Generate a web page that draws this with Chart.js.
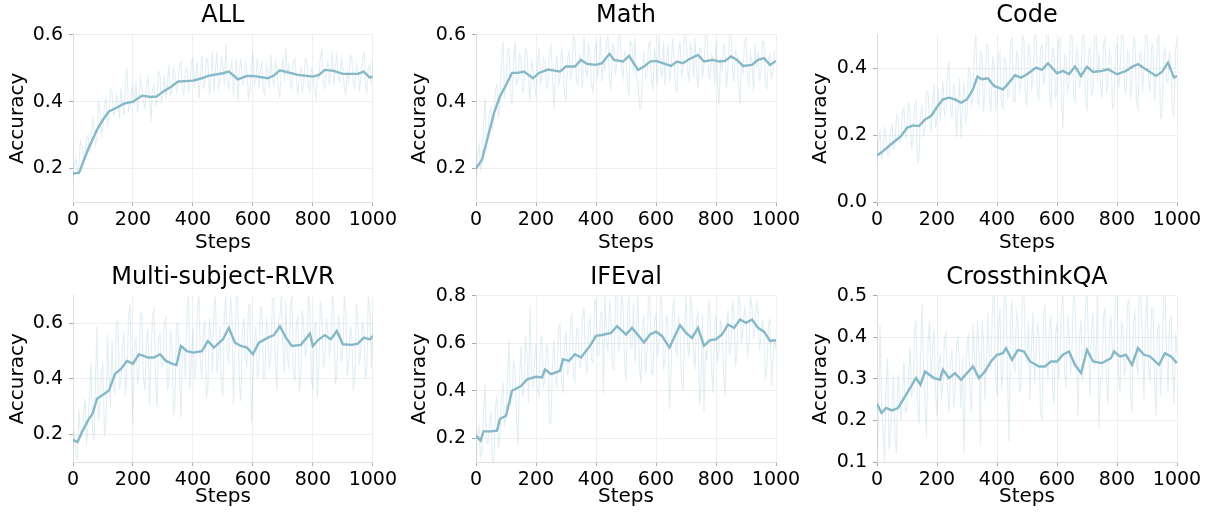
<!DOCTYPE html>
<html>
<head>
<meta charset="utf-8">
<script src="https://cdn.jsdelivr.net/npm/chart.js@4.4.1/dist/chart.umd.min.js"></script>
<style>
  body { margin: 0; background: #fff; width: 1214px; height: 517px; position: relative; overflow: hidden; }
  canvas { position: absolute; }
</style>
</head>
<body>
<canvas id="p0"></canvas>
<canvas id="p1"></canvas>
<canvas id="p2"></canvas>
<canvas id="p3"></canvas>
<canvas id="p4"></canvas>
<canvas id="p5"></canvas>
<script>
// ---- data ----
const titles = ['ALL', 'Math', 'Code', 'Multi-subject-RLVR', 'IFEval', 'CrossthinkQA'];
const xTicks = [0, 200, 400, 600, 800, 1000];
const yTicks = [
  [0.2, 0.4, 0.6],
  [0.2, 0.4, 0.6],
  [0.0, 0.2, 0.4],
  [0.2, 0.4, 0.6],
  [0.2, 0.4, 0.6, 0.8],
  [0.1, 0.2, 0.3, 0.4, 0.5]
];
const yRanges = [[0.1, 0.6], [0.1, 0.6], [0.0, 0.5], [0.1, 0.7], [0.1, 0.8], [0.1, 0.5]];

// raw (unsmoothed) accuracy, one value every 5 steps, one row per 100 steps
const rawSteps = [];
for (let s = 0; s <= 1000; s += 5) rawSteps.push(s);

const allRaw = [
  0.17, 0.21, 0.23, 0.19, 0.21, 0.28, 0.27, 0.22, 0.24, 0.29, 0.30, 0.25, 0.26, 0.35, 0.33, 0.27, 0.29, 0.40, 0.38, 0.30,
  0.32, 0.39, 0.41, 0.33, 0.35, 0.44, 0.43, 0.36, 0.37, 0.42, 0.40, 0.35, 0.44, 0.39, 0.36, 0.45, 0.50, 0.37, 0.38, 0.43,
  0.45, 0.39, 0.46, 0.37, 0.41, 0.47, 0.44, 0.40, 0.38, 0.45, 0.47, 0.41, 0.34, 0.44, 0.45, 0.39, 0.40, 0.49, 0.48, 0.40,
  0.42, 0.48, 0.41, 0.46, 0.51, 0.42, 0.43, 0.50, 0.48, 0.43, 0.44, 0.51, 0.52, 0.44, 0.42, 0.49, 0.50, 0.43, 0.45, 0.52,
  0.53, 0.44, 0.49, 0.52, 0.41, 0.47, 0.54, 0.44, 0.45, 0.53, 0.52, 0.42, 0.47, 0.55, 0.43, 0.50, 0.55, 0.44, 0.46, 0.53,
  0.51, 0.45, 0.57, 0.46, 0.44, 0.50, 0.52, 0.42, 0.47, 0.53, 0.40, 0.49, 0.53, 0.45, 0.46, 0.52, 0.50, 0.41, 0.43, 0.51,
  0.55, 0.45, 0.47, 0.53, 0.44, 0.49, 0.52, 0.43, 0.42, 0.51, 0.49, 0.44, 0.54, 0.47, 0.45, 0.52, 0.50, 0.44, 0.41, 0.50,
  0.53, 0.46, 0.56, 0.48, 0.51, 0.45, 0.44, 0.52, 0.53, 0.47, 0.42, 0.48, 0.50, 0.43, 0.46, 0.53, 0.52, 0.45, 0.43, 0.50,
  0.49, 0.44, 0.41, 0.48, 0.47, 0.53, 0.56, 0.46, 0.44, 0.50, 0.52, 0.45, 0.49, 0.55, 0.45, 0.51, 0.54, 0.47, 0.46, 0.53,
  0.50, 0.44, 0.42, 0.49, 0.46, 0.54, 0.53, 0.45, 0.44, 0.51, 0.50, 0.43, 0.47, 0.52, 0.55, 0.46, 0.43, 0.50, 0.51, 0.45,
  0.52];
const mathRaw = [
  0.17, 0.24, 0.27, 0.20, 0.22, 0.33, 0.41, 0.26, 0.30, 0.37, 0.38, 0.31, 0.36, 0.44, 0.45, 0.35, 0.40, 0.52, 0.58, 0.41,
  0.44, 0.55, 0.56, 0.43, 0.39, 0.51, 0.58, 0.45, 0.46, 0.54, 0.53, 0.43, 0.44, 0.56, 0.55, 0.46, 0.40, 0.52, 0.50, 0.44,
  0.42, 0.51, 0.56, 0.45, 0.48, 0.53, 0.52, 0.44, 0.45, 0.55, 0.57, 0.47, 0.38, 0.50, 0.54, 0.45, 0.47, 0.56, 0.51, 0.43,
  0.40, 0.53, 0.55, 0.47, 0.49, 0.60, 0.58, 0.46, 0.45, 0.54, 0.53, 0.44, 0.60, 0.50, 0.47, 0.57, 0.55, 0.45, 0.43, 0.54,
  0.58, 0.47, 0.50, 0.60, 0.46, 0.53, 0.49, 0.58, 0.60, 0.46, 0.44, 0.57, 0.56, 0.48, 0.52, 0.60, 0.61, 0.50, 0.47, 0.55,
  0.54, 0.45, 0.42, 0.58, 0.57, 0.48, 0.59, 0.47, 0.46, 0.38, 0.38, 0.50, 0.55, 0.47, 0.48, 0.57, 0.58, 0.46, 0.44, 0.56,
  0.53, 0.45, 0.60, 0.50, 0.47, 0.58, 0.45, 0.52, 0.57, 0.46, 0.49, 0.59, 0.54, 0.44, 0.43, 0.55, 0.58, 0.48, 0.50, 0.60,
  0.61, 0.50, 0.46, 0.57, 0.55, 0.47, 0.59, 0.49, 0.44, 0.56, 0.56, 0.47, 0.51, 0.60, 0.60, 0.48, 0.47, 0.54, 0.53, 0.45,
  0.58, 0.46, 0.39, 0.53, 0.49, 0.57, 0.56, 0.44, 0.50, 0.60, 0.61, 0.49, 0.46, 0.55, 0.54, 0.45, 0.39, 0.52, 0.48, 0.58,
  0.59, 0.47, 0.45, 0.54, 0.52, 0.43, 0.57, 0.50, 0.55, 0.46, 0.49, 0.58, 0.58, 0.45, 0.44, 0.53, 0.54, 0.47, 0.49, 0.55,
  0.55];
const codeRaw = [
  0.12, 0.18, 0.21, 0.13, 0.15, 0.22, 0.20, 0.14, 0.14, 0.21, 0.23, 0.16, 0.17, 0.26, 0.25, 0.18, 0.18, 0.27, 0.28, 0.19,
  0.20, 0.30, 0.27, 0.16, 0.19, 0.29, 0.30, 0.12, 0.13, 0.26, 0.29, 0.20, 0.22, 0.33, 0.33, 0.24, 0.21, 0.30, 0.35, 0.22,
  0.26, 0.34, 0.24, 0.31, 0.36, 0.26, 0.27, 0.39, 0.42, 0.28, 0.25, 0.35, 0.34, 0.19, 0.28, 0.37, 0.19, 0.30, 0.36, 0.24,
  0.26, 0.40, 0.39, 0.29, 0.31, 0.46, 0.50, 0.30, 0.29, 0.45, 0.44, 0.27, 0.33, 0.47, 0.47, 0.31, 0.27, 0.43, 0.41, 0.28,
  0.30, 0.44, 0.45, 0.29, 0.28, 0.43, 0.42, 0.31, 0.32, 0.48, 0.49, 0.30, 0.30, 0.45, 0.44, 0.33, 0.35, 0.50, 0.48, 0.30,
  0.29, 0.47, 0.46, 0.34, 0.36, 0.50, 0.50, 0.32, 0.31, 0.46, 0.47, 0.35, 0.38, 0.50, 0.52, 0.33, 0.28, 0.46, 0.45, 0.31,
  0.34, 0.48, 0.49, 0.30, 0.22, 0.44, 0.43, 0.33, 0.35, 0.50, 0.51, 0.32, 0.30, 0.46, 0.44, 0.34, 0.37, 0.50, 0.50, 0.31,
  0.27, 0.45, 0.46, 0.32, 0.33, 0.50, 0.52, 0.36, 0.45, 0.36, 0.31, 0.47, 0.49, 0.33, 0.35, 0.45, 0.43, 0.28, 0.29, 0.46,
  0.47, 0.34, 0.38, 0.50, 0.51, 0.35, 0.32, 0.45, 0.44, 0.31, 0.36, 0.49, 0.48, 0.30, 0.28, 0.44, 0.45, 0.33, 0.40, 0.50,
  0.52, 0.36, 0.33, 0.46, 0.47, 0.30, 0.37, 0.49, 0.50, 0.25, 0.26, 0.44, 0.46, 0.36, 0.36, 0.45, 0.41, 0.27, 0.26, 0.45,
  0.49];
const multiRaw = [
  0.15, 0.21, 0.12, 0.11, 0.29, 0.20, 0.19, 0.27, 0.33, 0.16, 0.24, 0.34, 0.46, 0.22, 0.18, 0.40, 0.59, 0.25, 0.30, 0.43,
  0.45, 0.19, 0.25, 0.56, 0.41, 0.30, 0.54, 0.37, 0.35, 0.60, 0.61, 0.36, 0.40, 0.52, 0.57, 0.34, 0.43, 0.62, 0.67, 0.42,
  0.24, 0.50, 0.55, 0.38, 0.42, 0.64, 0.63, 0.40, 0.36, 0.54, 0.58, 0.30, 0.47, 0.62, 0.66, 0.41, 0.30, 0.55, 0.56, 0.45,
  0.44, 0.60, 0.62, 0.36, 0.39, 0.58, 0.53, 0.27, 0.31, 0.60, 0.60, 0.42, 0.26, 0.51, 0.52, 0.40, 0.64, 0.70, 0.36, 0.47,
  0.58, 0.40, 0.44, 0.65, 0.70, 0.45, 0.40, 0.58, 0.61, 0.33, 0.37, 0.62, 0.55, 0.42, 0.66, 0.70, 0.42, 0.48, 0.59, 0.38,
  0.34, 0.63, 0.70, 0.48, 0.46, 0.70, 0.63, 0.31, 0.52, 0.70, 0.70, 0.38, 0.32, 0.58, 0.62, 0.47, 0.45, 0.66, 0.67, 0.24,
  0.38, 0.55, 0.59, 0.41, 0.43, 0.66, 0.66, 0.40, 0.40, 0.61, 0.58, 0.44, 0.47, 0.69, 0.69, 0.45, 0.36, 0.62, 0.62, 0.70,
  0.51, 0.42, 0.68, 0.47, 0.44, 0.66, 0.70, 0.43, 0.39, 0.60, 0.62, 0.35, 0.41, 0.65, 0.58, 0.48, 0.52, 0.70, 0.66, 0.40,
  0.36, 0.58, 0.61, 0.33, 0.45, 0.68, 0.63, 0.44, 0.48, 0.62, 0.57, 0.49, 0.53, 0.70, 0.66, 0.38, 0.42, 0.63, 0.59, 0.46,
  0.50, 0.70, 0.64, 0.41, 0.47, 0.59, 0.55, 0.36, 0.40, 0.67, 0.61, 0.45, 0.51, 0.61, 0.57, 0.40, 0.44, 0.70, 0.66, 0.44,
  0.62];
const ifevalRaw = [
  0.10, 0.22, 0.25, 0.12, 0.14, 0.30, 0.43, 0.18, 0.18, 0.27, 0.31, 0.10, 0.10, 0.33, 0.38, 0.16, 0.22, 0.37, 0.44, 0.25,
  0.29, 0.45, 0.61, 0.34, 0.36, 0.52, 0.50, 0.30, 0.17, 0.44, 0.59, 0.38, 0.40, 0.63, 0.55, 0.35, 0.76, 0.48, 0.41, 0.53,
  0.60, 0.40, 0.38, 0.62, 0.63, 0.42, 0.45, 0.60, 0.56, 0.26, 0.26, 0.52, 0.61, 0.44, 0.42, 0.66, 0.68, 0.45, 0.39, 0.60,
  0.65, 0.47, 0.48, 0.70, 0.72, 0.46, 0.44, 0.66, 0.66, 0.50, 0.50, 0.71, 0.75, 0.52, 0.47, 0.68, 0.70, 0.53, 0.52, 0.77,
  0.78, 0.55, 0.55, 0.73, 0.73, 0.39, 0.80, 0.62, 0.56, 0.78, 0.71, 0.50, 0.49, 0.80, 0.80, 0.57, 0.60, 0.80, 0.77, 0.52,
  0.44, 0.74, 0.80, 0.58, 0.58, 0.77, 0.52, 0.66, 0.80, 0.50, 0.43, 0.68, 0.71, 0.47, 0.56, 0.80, 0.79, 0.48, 0.47, 0.70,
  0.72, 0.55, 0.58, 0.80, 0.77, 0.49, 0.53, 0.72, 0.68, 0.32, 0.47, 0.74, 0.79, 0.58, 0.55, 0.72, 0.65, 0.44, 0.40, 0.66,
  0.80, 0.60, 0.54, 0.79, 0.76, 0.55, 0.49, 0.70, 0.73, 0.34, 0.41, 0.72, 0.31, 0.57, 0.53, 0.78, 0.74, 0.49, 0.39, 0.65,
  0.72, 0.52, 0.57, 0.70, 0.64, 0.48, 0.38, 0.66, 0.74, 0.55, 0.59, 0.78, 0.72, 0.50, 0.56, 0.80, 0.77, 0.60, 0.66, 0.75,
  0.71, 0.54, 0.60, 0.80, 0.75, 0.62, 0.67, 0.78, 0.72, 0.57, 0.63, 0.70, 0.63, 0.45, 0.51, 0.68, 0.70, 0.42, 0.54, 0.62,
  0.57];
const crossRaw = [
  0.10, 0.19, 0.43, 0.25, 0.18, 0.10, 0.28, 0.35, 0.13, 0.17, 0.24, 0.31, 0.16, 0.12, 0.31, 0.27, 0.20, 0.26, 0.34, 0.22,
  0.23, 0.30, 0.38, 0.26, 0.27, 0.41, 0.44, 0.25, 0.19, 0.35, 0.48, 0.33, 0.24, 0.16, 0.39, 0.44, 0.30, 0.36, 0.42, 0.27,
  0.21, 0.33, 0.36, 0.25, 0.29, 0.40, 0.41, 0.28, 0.22, 0.34, 0.37, 0.24, 0.26, 0.38, 0.40, 0.32, 0.23, 0.35, 0.12, 0.30,
  0.38, 0.41, 0.27, 0.22, 0.43, 0.36, 0.30, 0.44, 0.37, 0.14, 0.44, 0.39, 0.25, 0.33, 0.46, 0.35, 0.33, 0.48, 0.52, 0.31,
  0.26, 0.42, 0.47, 0.28, 0.31, 0.53, 0.51, 0.30, 0.15, 0.44, 0.49, 0.33, 0.32, 0.46, 0.44, 0.27, 0.28, 0.53, 0.50, 0.36,
  0.34, 0.44, 0.25, 0.38, 0.46, 0.29, 0.36, 0.43, 0.41, 0.22, 0.20, 0.45, 0.48, 0.35, 0.30, 0.43, 0.45, 0.28, 0.24, 0.41,
  0.43, 0.30, 0.33, 0.47, 0.52, 0.32, 0.28, 0.45, 0.42, 0.31, 0.37, 0.51, 0.49, 0.34, 0.21, 0.40, 0.44, 0.30, 0.32, 0.47,
  0.53, 0.38, 0.26, 0.41, 0.46, 0.33, 0.35, 0.51, 0.18, 0.30, 0.30, 0.45, 0.47, 0.29, 0.24, 0.42, 0.45, 0.36, 0.36, 0.52,
  0.50, 0.31, 0.27, 0.44, 0.42, 0.31, 0.33, 0.48, 0.49, 0.25, 0.22, 0.44, 0.46, 0.34, 0.31, 0.53, 0.50, 0.38, 0.25, 0.44,
  0.51, 0.33, 0.29, 0.47, 0.47, 0.30, 0.21, 0.42, 0.43, 0.26, 0.35, 0.49, 0.52, 0.36, 0.27, 0.44, 0.45, 0.33, 0.24, 0.41,
  0.36];

// smoothed accuracy (dark line)
const allSmoothSteps = [0, 20, 50, 80, 100, 120, 150, 170, 200, 230, 260, 280, 300, 330, 350, 400, 430, 450, 500, 520, 550, 580, 600, 650, 670, 690, 720, 750, 800, 820, 840, 870, 900, 950, 970, 990, 1000];
const allSmooth = [0.185, 0.187, 0.257, 0.316, 0.346, 0.371, 0.384, 0.394, 0.40, 0.418, 0.414, 0.416, 0.43, 0.446, 0.46, 0.463, 0.47, 0.477, 0.485, 0.49, 0.467, 0.477, 0.477, 0.47, 0.478, 0.494, 0.487, 0.48, 0.475, 0.48, 0.495, 0.492, 0.483, 0.483, 0.49, 0.472, 0.475];
const mathSmoothSteps = [0, 20, 40, 60, 80, 100, 120, 140, 160, 190, 210, 240, 280, 300, 330, 350, 370, 400, 420, 445, 460, 490, 510, 540, 560, 580, 600, 630, 650, 670, 690, 710, 740, 760, 790, 810, 830, 850, 870, 890, 920, 940, 960, 980, 1000];
const mathSmooth = [0.20, 0.227, 0.296, 0.366, 0.416, 0.45, 0.486, 0.486, 0.49, 0.47, 0.486, 0.496, 0.49, 0.505, 0.505, 0.525, 0.513, 0.51, 0.515, 0.543, 0.525, 0.52, 0.537, 0.495, 0.505, 0.52, 0.522, 0.513, 0.507, 0.52, 0.515, 0.527, 0.54, 0.52, 0.525, 0.52, 0.522, 0.535, 0.525, 0.507, 0.51, 0.525, 0.53, 0.51, 0.522];
const codeSmoothSteps = [0, 20, 50, 80, 100, 120, 140, 160, 180, 200, 220, 240, 260, 280, 300, 320, 335, 350, 370, 390, 420, 440, 460, 480, 500, 530, 550, 570, 600, 620, 640, 660, 680, 700, 720, 750, 770, 800, 830, 850, 870, 900, 930, 950, 970, 990, 1000];
const codeSmooth = [0.139, 0.152, 0.175, 0.197, 0.222, 0.229, 0.227, 0.247, 0.257, 0.284, 0.307, 0.312, 0.307, 0.297, 0.307, 0.337, 0.375, 0.367, 0.37, 0.347, 0.337, 0.357, 0.379, 0.372, 0.382, 0.402, 0.395, 0.415, 0.385, 0.392, 0.382, 0.405, 0.377, 0.404, 0.389, 0.392, 0.397, 0.382, 0.392, 0.404, 0.412, 0.395, 0.377, 0.389, 0.417, 0.372, 0.377];
const multiSmoothSteps = [0, 15, 30, 50, 65, 80, 100, 120, 140, 160, 180, 200, 220, 250, 270, 290, 310, 330, 345, 360, 380, 400, 430, 450, 470, 500, 520, 540, 560, 580, 600, 620, 650, 670, 690, 710, 730, 760, 790, 800, 820, 840, 860, 880, 900, 930, 950, 970, 990, 1000];
const multiSmooth = [0.18, 0.172, 0.208, 0.25, 0.274, 0.328, 0.343, 0.358, 0.418, 0.436, 0.465, 0.455, 0.489, 0.477, 0.477, 0.489, 0.465, 0.455, 0.45, 0.519, 0.50, 0.495, 0.50, 0.537, 0.513, 0.543, 0.584, 0.531, 0.519, 0.513, 0.489, 0.531, 0.549, 0.558, 0.59, 0.549, 0.519, 0.523, 0.563, 0.519, 0.543, 0.558, 0.543, 0.573, 0.525, 0.523, 0.527, 0.549, 0.543, 0.555];
const ifevalSmoothSteps = [0, 15, 25, 50, 70, 80, 100, 120, 150, 170, 200, 220, 230, 250, 280, 290, 310, 330, 350, 380, 400, 420, 450, 470, 500, 520, 540, 560, 580, 600, 620, 645, 660, 680, 700, 720, 740, 760, 780, 800, 820, 840, 860, 880, 900, 920, 940, 960, 980, 1000];
const ifevalSmooth = [0.211, 0.19, 0.229, 0.229, 0.232, 0.281, 0.295, 0.40, 0.42, 0.448, 0.459, 0.456, 0.49, 0.47, 0.484, 0.533, 0.526, 0.554, 0.54, 0.589, 0.631, 0.635, 0.644, 0.672, 0.637, 0.665, 0.635, 0.603, 0.637, 0.649, 0.631, 0.582, 0.623, 0.676, 0.644, 0.623, 0.665, 0.589, 0.613, 0.617, 0.637, 0.679, 0.665, 0.70, 0.686, 0.70, 0.665, 0.649, 0.61, 0.613];
const crossSmoothSteps = [0, 15, 30, 50, 70, 90, 110, 130, 145, 160, 190, 210, 220, 240, 260, 280, 300, 320, 340, 360, 380, 400, 420, 430, 450, 470, 490, 510, 540, 560, 580, 600, 620, 640, 660, 680, 700, 720, 750, 780, 790, 810, 830, 850, 870, 890, 910, 940, 960, 980, 1000];
const crossSmooth = [0.24, 0.218, 0.23, 0.224, 0.23, 0.254, 0.278, 0.302, 0.286, 0.318, 0.302, 0.298, 0.322, 0.302, 0.314, 0.298, 0.314, 0.33, 0.302, 0.318, 0.342, 0.358, 0.362, 0.374, 0.346, 0.37, 0.366, 0.342, 0.33, 0.33, 0.342, 0.342, 0.358, 0.366, 0.334, 0.314, 0.37, 0.342, 0.338, 0.35, 0.366, 0.354, 0.358, 0.334, 0.374, 0.358, 0.354, 0.334, 0.362, 0.354, 0.338];

const rawSeries = [allRaw, mathRaw, codeRaw, multiRaw, ifevalRaw, crossRaw];
const smoothSteps = [allSmoothSteps, mathSmoothSteps, codeSmoothSteps, multiSmoothSteps, ifevalSmoothSteps, crossSmoothSteps];
const smoothSeries = [allSmooth, mathSmooth, codeSmooth, multiSmooth, ifevalSmooth, crossSmooth];

// ---- layout of the 2x3 grid ----
const cols = [
  { left: 0, width: 400, yAxisW: 73, padRight: 27, yTitlePad: 6 },
  { left: 400, width: 405, yAxisW: 76, padRight: 29, yTitlePad: 8 },
  { left: 805, width: 409, yAxisW: 72, padRight: 37, yTitlePad: 4 }
];
const rows = [
  { top: 0, height: 258, padTop: 1, titleGap: 5, xAxisH: 56, xTitlePad: 3 },
  { top: 258, height: 259, padTop: 5, titleGap: 4, xAxisH: 55, xTitlePad: 8 }
];

Chart.defaults.font.family = 'DejaVu Sans';
Chart.defaults.color = '#000';

const smoothColor = '#86b8c7';
const rawColor = 'rgba(134, 184, 199, 0.24)';

function makePanel(i) {
  const col = cols[i % 3];
  const row = rows[Math.floor(i / 3)];
  const canvas = document.getElementById('p' + i);
  canvas.width = col.width;
  canvas.height = row.height;
  canvas.style.left = col.left + 'px';
  canvas.style.top = row.top + 'px';

  const raw = rawSeries[i].map((v, k) => ({ x: rawSteps[k], y: v }));
  const smooth = smoothSeries[i].map((v, k) => ({ x: smoothSteps[i][k], y: v }));

  new Chart(canvas.getContext('2d'), {
    type: 'line',
    data: {
      datasets: [
        { data: smooth, borderColor: smoothColor, borderWidth: 2.4, pointRadius: 0, tension: 0 },
        { data: raw, borderColor: rawColor, borderWidth: 1.1, pointRadius: 0, tension: 0 }
      ]
    },
    options: {
      responsive: false,
      animation: false,
      layout: { padding: { top: row.padTop, left: 0, right: col.padRight, bottom: 0 } },
      plugins: {
        legend: { display: false },
        tooltip: { enabled: false },
        title: {
          display: true,
          text: titles[i],
          fullSize: false,
          color: '#000',
          font: { size: 24, weight: 'normal' },
          padding: { top: 0, bottom: row.titleGap }
        }
      },
      scales: {
        x: {
          type: 'linear',
          min: 0,
          max: 1000,
          afterBuildTicks: s => { s.ticks = xTicks.map(v => ({ value: v })); },
          afterFit: s => { s.height = row.xAxisH; },
          ticks: { font: { size: 19 }, padding: 3, maxRotation: 0, color: '#000', callback: v => String(v) },
          grid: { color: '#efefef', tickColor: '#aaa', tickLength: 4 },
          border: { color: '#dddddd' },
          title: { display: true, text: 'Steps', font: { size: 20 }, padding: { top: 0, bottom: row.xTitlePad } }
        },
        y: {
          min: yRanges[i][0],
          max: yRanges[i][1],
          afterBuildTicks: s => { s.ticks = yTicks[i].map(v => ({ value: v })); },
          afterFit: s => { s.width = col.yAxisW; },
          ticks: { font: { size: 19 }, padding: 6, color: '#000', callback: v => v.toFixed(1) },
          grid: { color: '#efefef', tickColor: '#aaa', tickLength: 4 },
          border: { color: '#dddddd' },
          title: { display: true, text: 'Accuracy', font: { size: 20 }, padding: { top: col.yTitlePad, bottom: 0 } }
        }
      }
    }
  });
}

for (let i = 0; i < 6; i++) makePanel(i);
</script>
</body>
</html>
